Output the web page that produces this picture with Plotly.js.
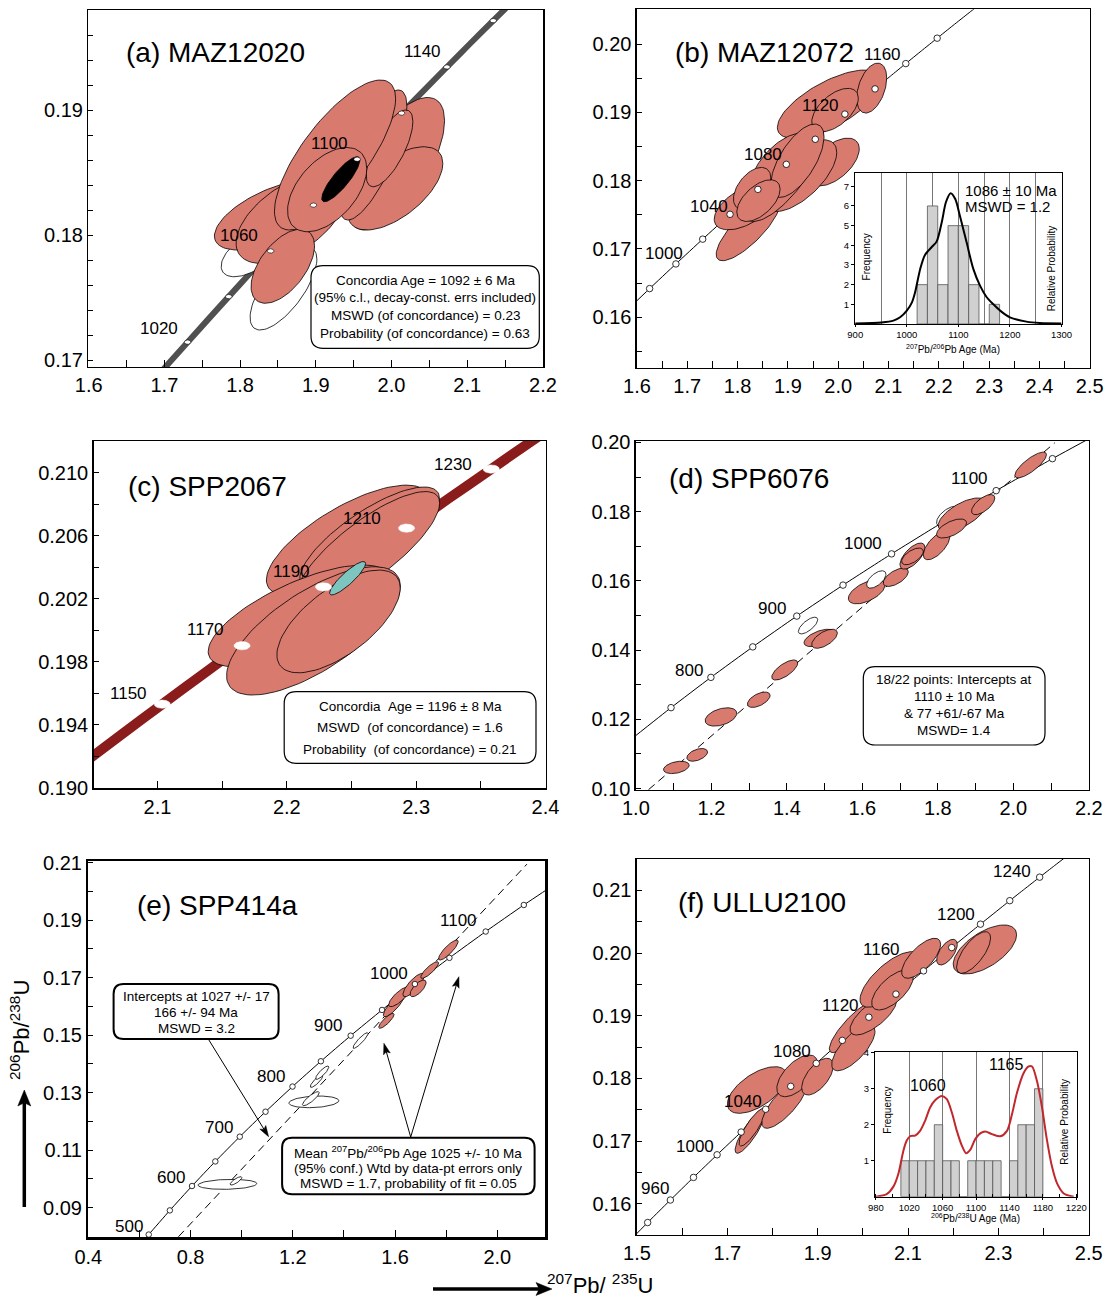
<!DOCTYPE html>
<html><head><meta charset="utf-8">
<script src="https://cdn.plot.ly/plotly-3.0.1.min.js"></script>
<style>html,body{margin:0;padding:0;background:#fff}#chart{width:1110px;height:1298px}</style>
</head><body><div id="chart"></div>
<script>
// ---------- concordia reference points (age Ma, 207Pb/235U, 206Pb/238U) ----------
const concAge=[450,500,550,600,650,700,750,800,850,900,920,940,950,960,980,1000,1020,1040,1050,1060,1080,1100,1120,1140,1150,1160,1170,1180,1190,1200,1210,1220,1230,1240,1250,1260];
const concX=[0.55766,0.63628,0.71887,0.80563,0.89677,0.99251,1.09308,1.19873,1.30971,1.42629,1.47456,1.52378,1.54876,1.57399,1.62519,1.67741,1.73067,1.78499,1.81255,1.84039,1.89689,1.95452,2.01329,2.07323,2.10365,2.13436,2.16538,2.19671,2.22835,2.26030,2.29257,2.32516,2.35807,2.39130,2.42487,2.45876];
const concY=[0.07230,0.08065,0.08906,0.09754,0.10609,0.11470,0.12338,0.13213,0.14094,0.14983,0.15340,0.15699,0.15878,0.16058,0.16419,0.16780,0.17143,0.17507,0.17690,0.17872,0.18239,0.18606,0.18975,0.19344,0.19530,0.19715,0.19901,0.20087,0.20274,0.20460,0.20647,0.20835,0.21022,0.21210,0.21398,0.21587];

// ---------- marker ages per panel ----------
const aMark=[1020,1040,1060,1080,1100,1120,1140,1160];
const bMark=[980,1000,1020,1040,1060,1080,1100,1120,1140,1160,1180];
const cMark=[1150,1170,1190,1210,1230];
const dMark=[750,800,850,900,950,1000,1050,1100,1150];
const eMark=[500,550,600,650,700,750,800,850,900,950,1000,1050,1100,1150];
const fMark=[940,960,980,1000,1020,1040,1060,1080,1100,1120,1140,1160,1180,1200,1220,1240];

// ---------- (a) MAZ12020 error ellipses ----------
const aX=[1.8135,1.8573,1.8443,1.8674,2.0062,2.0050,1.9758,1.9974,1.9254,1.8564,1.9150,1.9330];
const aY=[0.17853,0.17573,0.18160,0.18133,0.18570,0.18373,0.18640,0.18693,0.18640,0.17750,0.18363,0.18446];
const aSx=[0.0385,0.0441,0.0782,0.0727,0.0639,0.0628,0.0445,0.0308,0.0800,0.0419,0.0523,0.0252];
const aSy=[0.00187,0.00333,0.00280,0.00360,0.00530,0.00333,0.00520,0.00307,0.00600,0.00296,0.00337,0.00180];
const aRho=[0.55,0.70,0.60,0.55,0.65,0.60,0.75,0.70,0.75,0.55,0.50,0.85];
const aKind=['out','out','in','in','in','in','in','in','in','in','in','mean'];

// ---------- (b) MAZ12072 ----------
const bX=[1.8210,1.8158,1.9913,1.9243,1.8912,1.9827,2.0666,1.9937,1.8879,1.9189,1.8289,1.8415];
const bY=[0.17296,0.17622,0.18273,0.18073,0.18122,0.19120,0.19356,0.19034,0.18207,0.18292,0.17886,0.17707];
const bSx=[0.0635,0.0622,0.0506,0.0728,0.0794,0.1036,0.0298,0.0463,0.0629,0.0529,0.0371,0.0430];
const bSy=[0.00469,0.00342,0.00350,0.00525,0.00720,0.00501,0.00366,0.00318,0.00488,0.00537,0.00308,0.00305];
const bRho=[0.80,0.55,0.55,0.65,0.75,0.68,0.40,0.55,0.60,0.65,0.50,0.55];

// ---------- (c) SPP2067 ----------
const cX=[2.2471,2.2640,2.2628,2.2095,2.2206,2.2400,2.2470];
const cY=[0.20570,0.20581,0.20514,0.20090,0.19995,0.20055,0.20329];
const cSx=[0.0629,0.0540,0.0554,0.0703,0.0672,0.0477,0.0139];
const cSy=[0.00350,0.00327,0.00365,0.00323,0.00407,0.00326,0.00106];
const cRho=[0.72,0.78,0.80,0.70,0.70,0.65,0.88];
const cKind=['in','in','in','in','in','in','mean'];

// ---------- (d) SPP6076 ----------
const dX=[1.1072,1.1624,1.2254,1.3255,1.3944,1.4561,1.4865,1.4998,1.6114,1.6370,1.6886,1.7327,1.7327,1.7967,1.8275,1.8650,1.8363,1.9201,2.0459];
const dY=[0.10612,0.10975,0.12070,0.12567,0.13426,0.14710,0.14352,0.14328,0.15684,0.16041,0.16104,0.16716,0.16707,0.17020,0.17865,0.17913,0.17513,0.18203,0.19347];
const dSx=[0.0340,0.0274,0.0419,0.0300,0.0344,0.0256,0.0410,0.0340,0.0485,0.0256,0.0331,0.0331,0.0287,0.0353,0.0309,0.0640,0.0397,0.0309,0.0419];
const dSy=[0.00178,0.00184,0.00265,0.00222,0.00290,0.00241,0.00251,0.00275,0.00347,0.00251,0.00265,0.00377,0.00241,0.00410,0.00290,0.00482,0.00275,0.00290,0.00372];
const dRho=[0.35,0.45,0.40,0.55,0.70,0.70,0.55,0.60,0.55,0.60,0.60,0.65,0.60,0.65,0.60,0.65,0.60,0.65,0.80];
const dKind=['in','in','in','in','in','out','in','in','in','out','in','in','in','in','out','in','in','in','in'];
const dDiscX=[1.0335,2.1098];
const dDiscY=[0.0997,0.19988];

// ---------- (e) SPP414a ----------
const eX=[0.9443,0.9777,1.2823,1.2704,1.2927,1.3150,1.4648,1.5659,1.5958,1.6167,1.6725,1.6899,1.7352,1.8084];
const eY=[0.09812,0.09933,0.12681,0.12792,0.13400,0.13696,0.14814,0.15499,0.16049,0.16339,0.16745,0.16629,0.17267,0.17962];
const eSx=[0.1150,0.0230,0.0976,0.0328,0.0244,0.0258,0.0293,0.0300,0.0418,0.0418,0.0418,0.0314,0.0348,0.0383];
const eSy=[0.00174,0.00145,0.00203,0.00244,0.00214,0.00232,0.00273,0.00260,0.00406,0.00348,0.00406,0.00290,0.00290,0.00348];
const eRho=[0.15,0.80,0.20,0.85,0.85,0.85,0.90,0.85,0.85,0.80,0.80,0.70,0.85,0.85];
const eKind=['out','out','out','out','out','out','out','in','in','in','in','in','in','in'];
const eDiscX=[0.7526,2.1157];
const eDiscY=[0.0799,0.2095];

// ---------- (f) ULLU2100 ----------
const fX=[1.7660,1.7505,1.7550,1.8268,1.8545,1.8997,1.9782,1.9790,2.0232,2.0600,2.0656,2.1290,2.1861,2.2701,2.2451];
const fY=[0.17814,0.17150,0.17220,0.17602,0.18040,0.18027,0.18817,0.18486,0.19011,0.19578,0.19410,0.19916,0.20014,0.20056,0.20008];
const fSx=[0.0657,0.0332,0.0290,0.0504,0.0449,0.0350,0.0524,0.0479,0.0516,0.0663,0.0460,0.0431,0.0228,0.0701,0.0376];
const fSy=[0.00372,0.00346,0.00300,0.00399,0.00333,0.00293,0.00407,0.00365,0.00319,0.00443,0.00319,0.00319,0.00205,0.00391,0.00332];
const fRho=[0.60,0.85,0.85,0.78,0.60,0.60,0.85,0.72,0.72,0.72,0.65,0.70,0.60,0.60,0.70];

// ---------- inset histograms ----------
const bBinMid=[1030,1050,1070,1090,1110,1130,1150,1170];
const bCount=[2,6,2,5,5,2,0,1];
const bProbAge=[900,951,974,987,1000,1010,1016,1026,1035,1048,1058,1068,1076,1085,1094,1103,1116,1129,1142,1155,1168,1181,1200,1232,1258,1300];
const bProbVal=[0.03,0.08,0.17,0.34,0.68,1.1,1.6,2.8,3.5,3.9,4.2,5.2,6.2,6.65,6.35,5.5,4.15,2.8,1.95,1.36,1.0,0.68,0.34,0.12,0.05,0.03];
const fBinMid=[1015,1025,1035,1045,1055,1065,1075,1085,1095,1105,1115,1125,1135,1145,1155,1165,1175];
const fCount=[1,1,1,1,2,1,1,0,1,1,1,1,0,1,2,2,3];
const fProbAge=[980,993,1001,1007,1013,1017,1021,1027,1033,1039,1045,1051,1059,1065,1071,1077,1083,1088,1093,1099,1105,1111,1119,1129,1137,1143,1149,1157,1163,1167,1173,1179,1185,1191,1197,1205,1217];
const fProbVal=[0,0.07,0.28,0.64,1.28,1.56,1.68,1.70,1.83,2.11,2.48,2.68,2.80,2.71,2.34,1.83,1.42,1.21,1.30,1.60,1.76,1.81,1.74,1.68,1.83,2.29,2.89,3.44,3.62,3.62,3.21,2.48,1.56,0.83,0.37,0.09,0];

// ================= drawing =================
const W=1110,H=1298;
const FONT='"Liberation Sans", Arial, Helvetica, sans-serif';
const SALMON='#d97a6f';
const traces=[];

function ellipseXY(cx,cy,sx,sy,r){
  const n=90,q=Math.sqrt(Math.max(0,1-r*r)),xs=[],ys=[];
  for(let i=0;i<=n;i++){const t=2*Math.PI*i/n;xs.push(cx+sx*Math.cos(t));ys.push(cy+sy*(r*Math.cos(t)+q*Math.sin(t)));}
  return [xs,ys];
}
function addEll(cx,cy,sx,sy,r,fill,lc,lw,xa,ya){
  const p=ellipseXY(cx,cy,sx,sy,r);
  traces.push({type:'scatter',mode:'lines',x:p[0],y:p[1],fill:'toself',fillcolor:fill,line:{color:lc,width:lw},xaxis:xa,yaxis:ya,hoverinfo:'skip',showlegend:false});
}
function addSet(X,Y,SX,SY,R,K,meanCol,xa,ya){
  X.forEach((v,i)=>{const k=K?K[i]:'in';const fill=k==='out'?'#ffffff':(k==='mean'?meanCol:SALMON);addEll(v,Y[i],SX[i],SY[i],R[i],fill,'#000',0.8,xa,ya);});
}
function addConc(lo,hi,step,color,width,xa,ya){
  const xs=[],ys=[];
  concAge.forEach((a,i)=>{if(a>=lo&&a<=hi&&a%step===0){xs.push(concX[i]);ys.push(concY[i]);}});
  traces.push({type:'scatter',mode:'lines',x:xs,y:ys,line:{color:color,width:width,shape:'spline',smoothing:0.5},xaxis:xa,yaxis:ya,hoverinfo:'skip',showlegend:false});
}
function addMarks(ages,size,xa,ya){
  traces.push({type:'scatter',mode:'markers',x:ages.map(a=>concX[concAge.indexOf(a)]),y:ages.map(a=>concY[concAge.indexOf(a)]),marker:{size:size,color:'#fff',line:{color:'#000',width:0.8}},xaxis:xa,yaxis:ya,hoverinfo:'skip',showlegend:false});
}
function addMarkEll(ages,rx,ry,lc,lw,xa,ya){
  ages.forEach(a=>{const i=concAge.indexOf(a);addEll(concX[i],concY[i],rx,ry,0,'#fff',lc,lw,xa,ya);});
}
function addDisc(X,Y,xa,ya){
  traces.push({type:'scatter',mode:'lines',x:X,y:Y,line:{color:'#000',width:1,dash:'8px,5px'},xaxis:xa,yaxis:ya,hoverinfo:'skip',showlegend:false});
}

// (a)
addConc(980,1200,10,'#505050',6,'x','y');
addSet(aX,aY,aSx,aSy,aRho,aKind,'#000','x','y');
addMarkEll(aMark,0.0044,0.000175,'#000',0.6,'x','y');
// (b)
addConc(960,1220,10,'#000',1,'x2','y2');
addSet(bX,bY,bSx,bSy,bRho,null,null,'x2','y2');
addMarks(bMark,6.5,'x2','y2');
// (c)
addConc(1120,1260,10,'#8b1c1c',10,'x3','y3');
addSet(cX,cY,cSx,cSy,cRho,cKind,'#7cc6bf','x3','y3');
addMarkEll(cMark,0.00626,0.000265,'#fff',0.5,'x3','y3');
// (d)
addConc(700,1200,50,'#000',1,'x4','y4');
addDisc(dDiscX,dDiscY,'x4','y4');
addMarks(dMark,6.5,'x4','y4');
addSet(dX,dY,dSx,dSy,dRho,dKind,null,'x4','y4');
// (e)
addConc(450,1200,50,'#000',1,'x5','y5');
addDisc(eDiscX,eDiscY,'x5','y5');
addSet(eX,eY,eSx,eSy,eRho,eKind,null,'x5','y5');
addMarks(eMark,5.5,'x5','y5');
// (f)
addConc(920,1260,10,'#000',1,'x6','y6');
addSet(fX,fY,fSx,fSy,fRho,null,null,'x6','y6');
addMarks(fMark,6.5,'x6','y6');
// insets
traces.push({type:'bar',x:bBinMid,y:bCount,width:20,marker:{color:'#d0d0d0',line:{color:'#555',width:0.8}},xaxis:'x7',yaxis:'y7',hoverinfo:'skip',showlegend:false});
traces.push({type:'scatter',mode:'lines',x:bProbAge,y:bProbVal,line:{color:'#000',width:2,shape:'spline',smoothing:0.8},xaxis:'x7',yaxis:'y7',hoverinfo:'skip',showlegend:false});
traces.push({type:'bar',x:fBinMid,y:fCount,width:10,marker:{color:'#d0d0d0',line:{color:'#555',width:0.8}},xaxis:'x8',yaxis:'y8',hoverinfo:'skip',showlegend:false});
traces.push({type:'scatter',mode:'lines',x:fProbAge,y:fProbVal,line:{color:'#c0282d',width:2,shape:'spline',smoothing:0.8},xaxis:'x8',yaxis:'y8',hoverinfo:'skip',showlegend:false});

// ---------- layout ----------
const layout={width:W,height:H,margin:{l:0,r:0,t:0,b:0},paper_bgcolor:'#fff',plot_bgcolor:'#fff',showlegend:false,
  font:{family:FONT,color:'#000'},annotations:[],shapes:[],bargap:0};
function box(l,r,t,b){return {x:[l/W,r/W],y:[1-b/H,1-t/H]};}
function mainAx(id,bx,xr,xt,yr,yt,lw){
  const d=box(bx[0],bx[1],bx[2],bx[3]);const s=id===1?'':String(id);
  const base={showline:true,linecolor:'#000',linewidth:lw,mirror:true,showgrid:false,zeroline:false,tickmode:'linear',ticks:'inside',
    tickcolor:'#000',tickwidth:1,fixedrange:true,tickfont:{family:FONT,size:20,color:'#000'}};
  const xa=Object.assign({},base,{domain:d.x,range:xr,anchor:'y'+s,tick0:xt.t0,dtick:xt.dt,tickformat:xt.f,ticklen:7});
  if(xt.m) xa.minor={tick0:xt.t0,dtick:xt.m,ticks:'inside',ticklen:7,tickcolor:'#000',tickwidth:1,showgrid:false};
  const ya=Object.assign({},base,{domain:d.y,range:yr,anchor:'x'+s,tick0:yt.t0,dtick:yt.dt,tickformat:yt.f,ticklen:5});
  if(yt.m) ya.minor={tick0:yt.t0,dtick:yt.m,ticks:'inside',ticklen:5,tickcolor:'#000',tickwidth:1,showgrid:false};
  layout['xaxis'+s]=xa;layout['yaxis'+s]=ya;
}
mainAx(1,[88.3,543.3,10,367],[1.5995,2.2005],{t0:1.6,dt:0.1,m:0.05,f:'.1f'},[0.16944,0.198],{t0:0.17,dt:0.01,m:0.002,f:'.2f'},1.3);
mainAx(2,[636.7,1090,9.3,367.7],[1.5995,2.5005],{t0:1.6,dt:0.1,m:0.05,f:'.1f'},[0.1526,0.2051],{t0:0.16,dt:0.01,m:0.005,f:'.2f'},1.3);
mainAx(3,[93.5,546.1,441,788.3],[2.0505,2.4005],{t0:2.1,dt:0.1,m:0.05,f:'.1f'},[0.18996,0.2120],{t0:0.19,dt:0.004,m:0.002,f:'.3f'},1.3);
mainAx(4,[635.7,1089,441,790],[0.9995,2.2005],{t0:1.0,dt:0.2,m:0.1,f:'.1f'},[0.0996,0.2004],{t0:0.10,dt:0.02,m:0.01,f:'.2f'},1.3);
mainAx(5,[88.2,545.4,860.7,1237.3],[0.3995,2.188],{t0:0.4,dt:0.4,m:0.2,f:'.1f'},[0.0797,0.2107],{t0:0.09,dt:0.02,m:0.01,f:'.2f'},2.2);
mainAx(6,[636.7,1089,859,1235],[1.4995,2.5005],{t0:1.5,dt:0.2,m:0.1,f:'.1f'},[0.155,0.215],{t0:0.16,dt:0.01,m:0.005,f:'.2f'},1.3);

function insetAx(id,bx,xr,xt0,xdt,xminor,yr,yvals){
  const d=box(bx[0],bx[1],bx[2],bx[3]);const s=String(id);
  layout['xaxis'+s]={domain:d.x,range:xr,anchor:'y'+s,tickmode:'linear',tick0:xt0,dtick:xdt,tickformat:'d',ticks:'outside',ticklen:2,tickcolor:'#000',
    showline:true,linecolor:'#000',linewidth:1,mirror:true,zeroline:false,showgrid:true,gridcolor:'#555',gridwidth:0.8,fixedrange:true,
    tickfont:{family:FONT,size:9.5,color:'#000'},minor:xminor};
  layout['yaxis'+s]={domain:d.y,range:yr,anchor:'x'+s,tickmode:'array',tickvals:yvals,ticks:'outside',ticklen:3,tickcolor:'#000',
    showline:true,linecolor:'#000',linewidth:1,mirror:true,zeroline:false,showgrid:false,fixedrange:true,tickfont:{family:FONT,size:9.5,color:'#000'}};
}
insetAx(7,[855,1061.7,173.3,324],[899.5,1300.5],900,100,{dtick:50,tick0:900,showgrid:true,gridcolor:'#555',gridwidth:0.8,ticks:''},[0,7.66],[1,2,3,4,5,6,7]);
insetAx(8,[875,1076.7,1051.7,1196.7],[979,1220.5],980,40,{dtick:20,tick0:980,showgrid:false,ticks:'inside',ticklen:3,tickcolor:'#000'},[0,4.03],[1,2,3,4]);

// ---------- text helpers ----------
function ann(text,xp,yp,size,opts){
  layout.annotations.push(Object.assign({text:text,x:xp/W,y:1-yp/H,xref:'paper',yref:'paper',showarrow:false,
    font:{family:FONT,size:size,color:'#000'},xanchor:'center',yanchor:'middle'},opts||{}));
}
function dlab(text,x,y,xa,ya){
  layout.annotations.push({text:text,x:x,y:y,xref:xa,yref:ya,showarrow:false,font:{family:FONT,size:17,color:'#000'},xanchor:'center',yanchor:'middle'});
}
const PX=p=>(p/W).toFixed(5), PY=p=>(1-p/H).toFixed(5);
function rbox(l,t,r,b,rad,w){
  const X=PX,Y=PY;
  const path='M '+X(l+rad)+','+Y(t)+' L '+X(r-rad)+','+Y(t)+' Q '+X(r)+','+Y(t)+' '+X(r)+','+Y(t+rad)+
    ' L '+X(r)+','+Y(b-rad)+' Q '+X(r)+','+Y(b)+' '+X(r-rad)+','+Y(b)+' L '+X(l+rad)+','+Y(b)+
    ' Q '+X(l)+','+Y(b)+' '+X(l)+','+Y(b-rad)+' L '+X(l)+','+Y(t+rad)+' Q '+X(l)+','+Y(t)+' '+X(l+rad)+','+Y(t)+' Z';
  layout.shapes.push({type:'path',xref:'paper',yref:'paper',path:path,line:{color:'#000',width:w},fillcolor:'#fff',layer:'above'});
}
// arrow from tail (x0,y0) to tip (x1,y1), pixel coordinates of the figure
function arrow(x0,y0,x1,y1,lw,hl,hw){
  const dx=x1-x0,dy=y1-y0,L=Math.hypot(dx,dy),ux=dx/L,uy=dy/L;
  const bx=x1-ux*hl*0.8,by=y1-uy*hl*0.8,cx=x1-ux*hl,cy=y1-uy*hl;
  layout.shapes.push({type:'line',xref:'paper',yref:'paper',x0:x0/W,y0:1-y0/H,x1:bx/W,y1:1-by/H,line:{color:'#000',width:lw},layer:'above'});
  const p='M '+PX(x1)+','+PY(y1)+' L '+PX(cx-uy*hw/2)+','+PY(cy+ux*hw/2)+' L '+PX(bx)+','+PY(by)+' L '+PX(cx+uy*hw/2)+','+PY(cy-ux*hw/2)+' Z';
  layout.shapes.push({type:'path',xref:'paper',yref:'paper',path:p,line:{color:'#000',width:0.5},fillcolor:'#000',layer:'above'});
}

// panel titles
ann('(a) MAZ12020',124,52,28,{xanchor:'left'});
ann('(b) MAZ12072',673,52,28,{xanchor:'left'});
ann('(c) SPP2067',126,487,28,{xanchor:'left'});
ann('(d) SPP6076',667,478,28,{xanchor:'left'});
ann('(e) SPP414a',135,905,28,{xanchor:'left'});
ann('(f) ULLU2100',676,902,28,{xanchor:'left'});

// age labels
dlab('1020',1.6934,0.17253,'x','y');dlab('1060',1.7991,0.17992,'x','y');dlab('1100',1.918,0.18728,'x','y');dlab('1140',2.0414,0.19467,'x','y');
dlab('1000',1.653,0.16928,'x2','y2');dlab('1040',1.7423,0.17622,'x2','y2');dlab('1080',1.8502,0.18378,'x2','y2');dlab('1120',1.9653,0.19106,'x2','y2');dlab('1160',2.0877,0.19844,'x2','y2');
dlab('1150',2.0776,0.19599,'x3','y3');dlab('1170',2.137,0.20001,'x3','y3');dlab('1190',2.2035,0.20371,'x3','y3');dlab('1210',2.2583,0.2071,'x3','y3');dlab('1230',2.3287,0.21053,'x3','y3');
dlab('800',1.142,0.13426,'x4','y4');dlab('900',1.36,0.15211,'x4','y4');dlab('1000',1.6008,0.17093,'x4','y4');dlab('1100',1.8849,0.18946,'x4','y4');
dlab('500',0.5575,0.08339,'x5','y5');dlab('600',0.7247,0.10055,'x5','y5');dlab('700',0.9129,0.11794,'x5','y5');dlab('800',1.115,0.13557,'x5','y5');dlab('900',1.338,0.1533,'x5','y5');dlab('1000',1.5749,0.1715,'x5','y5');dlab('1100',1.8467,0.19006,'x5','y5');
dlab('960',1.5405,0.16239,'x6','y6');dlab('1000',1.629,0.16915,'x6','y6');dlab('1040',1.7358,0.17633,'x6','y6');dlab('1080',1.8427,0.18431,'x6','y6');dlab('1120',1.9495,0.19165,'x6','y6');dlab('1160',2.0416,0.20053,'x6','y6');dlab('1200',2.206,0.20612,'x6','y6');dlab('1240',2.329,0.21303,'x6','y6');

// stats boxes
const NB='\u00a0';
rbox(311,265.7,539.3,348.3,12,1.2);
ann('Concordia Age = 1092 ± 6 Ma',425.2,280.5,13.5);
ann('(95% c.l., decay-const. errs included)',425.2,298,13.5);
ann('MSWD (of concordance) = 0.23',425.2,315.5,13.5);
ann('Probability (of concordance) = 0.63',425.2,333,13.5);

rbox(284.2,691.7,536,763.3,12,1.2);
ann('Concordia'+NB+NB+'Age = 1196 ± 8 Ma',410.1,706,13.5);
ann('MSWD'+NB+NB+'(of concordance) = 1.6',410.1,727.7,13.5);
ann('Probability'+NB+NB+'(of concordance) = 0.21',410.1,749.3,13.5);

rbox(863.3,666.7,1045,745,12,1.2);
ann('18/22 points: Intercepts at',954.2,679.5,13.5);
ann('1110 ± 10 Ma',954.2,696.5,13.5);
ann('&amp; 77 +61/-67 Ma',954.2,713.5,13.5);
ann('MSWD= 1.4',954.2,730,13.5);

rbox(113.6,984,278.6,1039,10,2);
ann('Intercepts at 1027 +/- 17',196.1,996.7,13.5);
ann('166 +/- 94 Ma',196.1,1012.3,13.5);
ann('MSWD = 3.2',196.1,1028.3,13.5);

rbox(282.1,1137.7,534.6,1194.3,10,2);
ann('Mean <sup>207</sup>Pb/<sup>206</sup>Pb Age 1025 +/- 10 Ma',408.4,1152.3,13.5);
ann('(95% conf.) Wtd by data-pt errors only',408.4,1168.3,13.5);
ann('MSWD = 1.7, probability of fit = 0.05',408.4,1183.3,13.5);

// (e) pointer arrows
arrow(208.9,1040,268.6,1136.7,1,11,7);
arrow(410.7,1137,383.9,1043.3,1,11,7);
arrow(410.7,1137,458.9,976.7,1,11,7);

// inset texts
ann('1086 ± 10 Ma',962.7,190,15,{xanchor:'left'});
ann('MSWD = 1.2',962.7,207,15,{xanchor:'left'});
ann('Frequency',866.7,256.7,10,{textangle:-90});
ann('Relative Probability',1051,268.3,10,{textangle:-90});
ann('<sup>207</sup>Pb/<sup>206</sup>Pb Age (Ma)',953,349.3,10);
ann('1060',907.7,1085.7,16,{xanchor:'left'});
ann('1165',986.7,1064.3,16,{xanchor:'left'});
ann('Frequency',886.7,1110,10,{textangle:-90});
ann('Relative Probability',1065,1121.7,10,{textangle:-90});
ann('<sup>206</sup>Pb/<sup>238</sup>U Age (Ma)',975.8,1217.7,10);

// global axis titles and arrows
ann('<sup>206</sup>Pb/<sup>238</sup>U',20,1030,22,{textangle:-90});
ann('<sup>207</sup>Pb/ <sup>235</sup>U',600,1284,22);
arrow(24.3,1207,24.3,1090,3.5,16,13);
arrow(433,1289,552,1289,3.5,16,13);

Plotly.newPlot('chart',traces,layout,{staticPlot:true,displayModeBar:false});
</script></body></html>
